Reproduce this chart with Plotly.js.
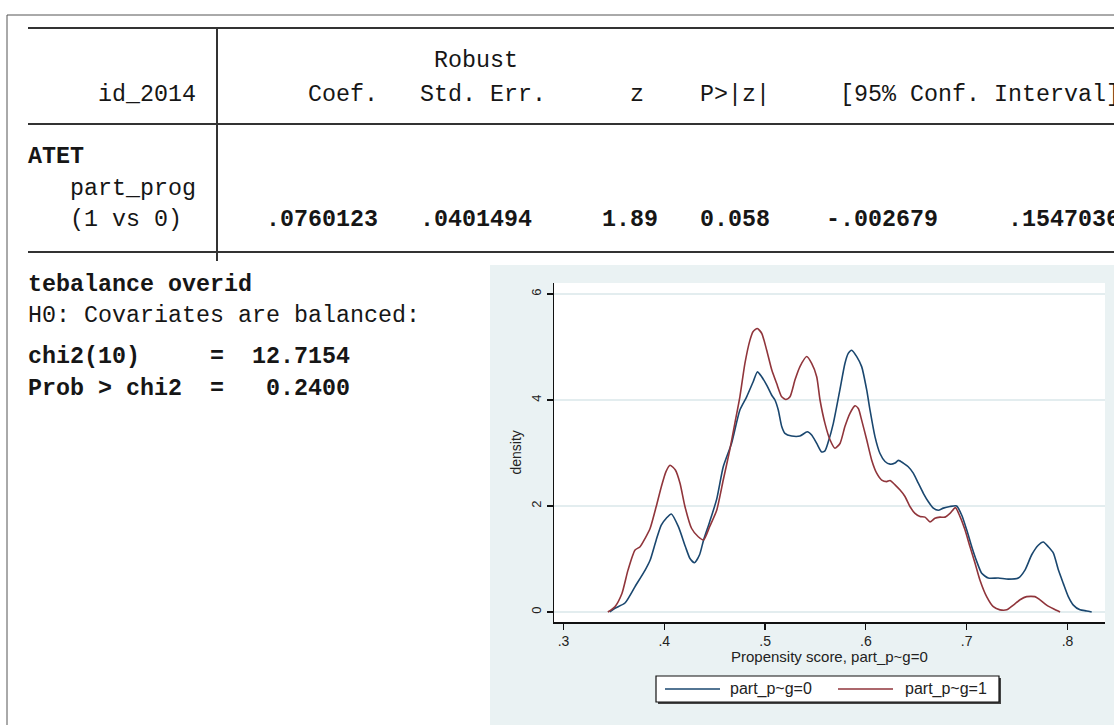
<!DOCTYPE html>
<html><head><meta charset="utf-8">
<script src="https://cdn.plot.ly/plotly-3.0.1.min.js"></script>
<style>html,body{margin:0;padding:0;background:#fff;overflow:hidden}#chart{width:1114px;height:725px}</style>
</head><body><div id="chart"></div>
<script>
// ---------- data ----------
const seriesNames = ['part_p~g=0', 'part_p~g=1'];
const seriesColors = ['#1a476f', '#90353b'];
const ps0X = [0.346,0.351,0.361,0.371,0.381,0.386,0.392,0.397,0.402,0.407,0.414,0.421,0.4255,0.430,0.435,0.439,0.445,0.452,0.4585,0.4667,0.475,0.4817,0.4883,0.4923,0.4966,0.5016,0.5066,0.5098,0.5131,0.5165,0.5197,0.5264,0.5346,0.5419,0.5462,0.5512,0.5561,0.5594,0.5627,0.5677,0.5743,0.5792,0.5825,0.5859,0.5909,0.5958,0.6008,0.6041,0.609,0.614,0.619,0.624,0.6289,0.6322,0.6371,0.642,0.647,0.652,0.657,0.662,0.6669,0.6718,0.6768,0.6834,0.690,0.695,0.700,0.705,0.710,0.7149,0.7214,0.7314,0.7413,0.7512,0.7578,0.7645,0.771,0.776,0.781,0.786,0.791,0.7958,0.8008,0.8058,0.8124,0.819,0.824];
const ps0Y = [0.00,0.07,0.17,0.48,0.79,0.98,1.36,1.64,1.77,1.85,1.61,1.23,1.01,0.93,1.08,1.36,1.70,2.13,2.74,3.18,3.81,4.06,4.35,4.53,4.44,4.28,4.09,4.00,3.81,3.50,3.37,3.32,3.32,3.40,3.34,3.18,3.02,3.04,3.21,3.56,4.20,4.69,4.88,4.94,4.82,4.63,4.19,3.81,3.31,2.99,2.84,2.79,2.81,2.86,2.81,2.74,2.62,2.43,2.24,2.08,1.96,1.92,1.96,1.99,2.00,1.83,1.55,1.23,0.95,0.73,0.64,0.64,0.62,0.64,0.79,1.08,1.26,1.32,1.23,1.11,0.79,0.54,0.29,0.13,0.04,0.02,0.00];
const ps1X = [0.344,0.351,0.358,0.364,0.371,0.376,0.381,0.386,0.392,0.397,0.4017,0.4057,0.411,0.4156,0.4205,0.427,0.4337,0.439,0.445,0.452,0.4585,0.465,0.470,0.475,0.480,0.485,0.488,0.4923,0.4966,0.5016,0.5066,0.5115,0.5165,0.5207,0.5247,0.5297,0.5346,0.5413,0.5462,0.5512,0.5545,0.5594,0.5644,0.5693,0.5743,0.5792,0.5842,0.5892,0.5925,0.5958,0.6008,0.6057,0.6107,0.6157,0.6206,0.6239,0.6289,0.6339,0.6388,0.6437,0.6487,0.6537,0.6586,0.6636,0.6685,0.6735,0.6785,0.6834,0.6888,0.6934,0.6983,0.7033,0.7083,0.7132,0.7198,0.7264,0.733,0.7397,0.7462,0.7529,0.7595,0.7677,0.7727,0.7793,0.786,0.7926];
const ps1Y = [0.00,0.10,0.35,0.79,1.17,1.23,1.39,1.58,1.99,2.36,2.65,2.77,2.68,2.43,1.99,1.58,1.42,1.36,1.61,1.92,2.49,3.06,3.56,4.06,4.69,5.13,5.29,5.35,5.26,4.94,4.57,4.31,4.06,4.01,4.06,4.38,4.63,4.82,4.69,4.44,4.00,3.56,3.25,3.09,3.18,3.50,3.75,3.89,3.84,3.62,3.25,2.87,2.62,2.49,2.46,2.48,2.40,2.30,2.18,1.99,1.86,1.80,1.79,1.70,1.77,1.79,1.79,1.86,1.97,1.80,1.55,1.23,0.92,0.60,0.29,0.10,0.04,0.04,0.13,0.23,0.29,0.29,0.23,0.13,0.06,0.00];
const xTickVals = [0.3, 0.4, 0.5, 0.6, 0.7, 0.8];
const xTickText = ['.3', '.4', '.5', '.6', '.7', '.8'];
const yTickVals = [0, 2, 4, 6];
const yTickText = ['0', '2', '4', '6'];
const xTitle = 'Propensity score, part_p~g=0';
const yTitle = 'density';

const depVar = 'id_2014';
const topHeader = 'Robust';
const colHeaders = ['Coef.', 'Std. Err.', 'z', 'P>|z|', '[95% Conf. Interval]'];
const rowLabels = ['ATET', 'part_prog', '(1 vs 0)'];
const estimates = ['.0760123', '.0401494', '1.89', '0.058', '-.002679', '.1547036'];
const testTitle = 'tebalance overid';
const testNull = 'H0: Covariates are balanced:';
const statLabels = ['chi2(10)', 'Prob > chi2'];
const statValues = ['12.7154', '0.2400'];

// ---------- layout helpers ----------
const W = 1114, H = 725;
const PX = p => p / W;
const PY = p => 1 - p / H;
const CW = 14, C0 = 28;          // monospace grid of the text output
const col = c => PX(C0 + c * CW);
const mono = {family: 'Liberation Mono, Courier New, monospace', size: 23.33, color: '#161616'};
const sans = 'Liberation Sans, Arial, sans-serif';

function txt(text, x, y, opts) {
  return Object.assign({text: text, x: x, y: y, xref: 'paper', yref: 'paper', xanchor: 'left', yanchor: 'middle',
    showarrow: false, borderpad: 0, borderwidth: 0, font: mono}, opts || {});
}

const annotations = [];
annotations.push(txt(topHeader, col(29), PY(61)));
annotations.push(txt(depVar, col(5), PY(95)));
const hdrCols = [20, 28, 43, 48, 58];
colHeaders.forEach((h, i) => annotations.push(txt(h, col(hdrCols[i]), PY(95))));
annotations.push(txt('<b>' + rowLabels[0] + '</b>', col(0), PY(157)));
annotations.push(txt(rowLabels[1], col(3), PY(189)));
annotations.push(txt(rowLabels[2], col(3), PY(220)));
const estCols = [17, 28, 41, 48, 57, 70];
estimates.forEach((v, i) => annotations.push(txt('<b>' + v + '</b>', col(estCols[i]), PY(220))));
annotations.push(txt('<b>' + testTitle + '</b>', col(0), PY(285)));
annotations.push(txt(testNull, col(0), PY(316)));
const statRows = [357, 389];
const statValCols = [16, 17];
statLabels.forEach((s, i) => {
  annotations.push(txt('<b>' + s + '</b>', col(0), PY(statRows[i])));
  annotations.push(txt('<b>=</b>', col(13), PY(statRows[i])));
  annotations.push(txt('<b>' + statValues[i] + '</b>', col(statValCols[i]), PY(statRows[i])));
});
// axis titles (Stata style placement)
annotations.push({text: xTitle, xref: 'x domain', yref: 'paper', x: 0.5, y: PY(656), xanchor: 'center', yanchor: 'middle',
  showarrow: false, font: {family: sans, size: 15, color: '#222'}});
annotations.push({text: yTitle, xref: 'paper', yref: 'y domain', x: PX(515), y: 0.5, xanchor: 'center', yanchor: 'middle',
  textangle: -90, showarrow: false, font: {family: sans, size: 14, color: '#222'}});

const lineCol = '#333';
const shapes = [
  // graph region background
  {type: 'rect', xref: 'paper', yref: 'paper', x0: PX(490), x1: 1, y0: 0, y1: PY(265), fillcolor: '#eaf2f3', line: {width: 0}, layer: 'below'},
  // plot region
  {type: 'rect', xref: 'x domain', yref: 'y domain', x0: 0, x1: 1, y0: 0, y1: 1, fillcolor: '#ffffff', line: {width: 0}, layer: 'below'},
  // outer frame of the results window
  {type: 'line', xref: 'paper', yref: 'paper', x0: PX(7), x1: 1.01, y0: PY(15), y1: PY(15), line: {color: '#555', width: 1}},
  {type: 'line', xref: 'paper', yref: 'paper', x0: PX(7), x1: PX(7), y0: PY(15), y1: -0.01, line: {color: '#555', width: 1}},
  // table rules
  {type: 'line', xref: 'paper', yref: 'paper', x0: PX(28), x1: 1.01, y0: PY(28), y1: PY(28), line: {color: lineCol, width: 2}},
  {type: 'line', xref: 'paper', yref: 'paper', x0: PX(28), x1: 1.01, y0: PY(124), y1: PY(124), line: {color: lineCol, width: 2}},
  {type: 'line', xref: 'paper', yref: 'paper', x0: PX(28), x1: 1.01, y0: PY(252), y1: PY(252), line: {color: lineCol, width: 2}},
  {type: 'line', xref: 'paper', yref: 'paper', x0: PX(217), x1: PX(217), y0: PY(28), y1: PY(261), line: {color: lineCol, width: 2}},
  // legend box (Stata style, with slight shadow)
  {type: 'rect', xref: 'paper', yref: 'paper', x0: PX(658), x1: PX(1001), y0: PY(704), y1: PY(678), fillcolor: '#444', line: {width: 0}},
  {type: 'rect', xref: 'paper', yref: 'paper', x0: PX(656), x1: PX(999), y0: PY(702), y1: PY(676), fillcolor: '#ffffff', line: {color: '#111', width: 1.2}}
];
// legend keys
const keyX = [[665, 720], [838, 893]];
const keyTextX = [730, 905];
seriesNames.forEach((n, i) => {
  shapes.push({type: 'line', xref: 'paper', yref: 'paper', x0: PX(keyX[i][0]), x1: PX(keyX[i][1]), y0: PY(689), y1: PY(689),
    line: {color: seriesColors[i], width: 1.6}});
  annotations.push({text: n, xref: 'paper', yref: 'paper', x: PX(keyTextX[i]), y: PY(689), xanchor: 'left', yanchor: 'middle',
    showarrow: false, borderpad: 0, borderwidth: 0, font: {family: sans, size: 16, color: '#222'}});
});

const traces = seriesNames.map((n, i) => ({
  x: [ps0X, ps1X][i], y: [ps0Y, ps1Y][i], name: n, type: 'scatter', mode: 'lines',
  line: {color: seriesColors[i], width: 1.6, shape: 'spline', smoothing: 0.6}
}));

const layout = {
  width: W, height: H,
  margin: {l: 0, r: 0, t: 0, b: 0, pad: 0},
  paper_bgcolor: '#ffffff', plot_bgcolor: 'rgba(0,0,0,0)',
  showlegend: false,
  xaxis: {domain: [PX(554), PX(1105)], range: [0.2906, 0.8372], tickvals: xTickVals, ticktext: xTickText,
    showline: true, linecolor: '#111', linewidth: 1.5, ticks: 'outside', ticklen: 6, tickwidth: 1.2, tickcolor: '#111',
    showgrid: false, zeroline: false, tickfont: {family: sans, size: 14, color: '#222'}, fixedrange: true},
  yaxis: {domain: [PY(622), PY(283)], range: [-0.189, 6.208], tickvals: yTickVals, ticktext: yTickText, tickangle: -90,
    showline: true, linecolor: '#111', linewidth: 1.5, ticks: 'outside', ticklen: 6, tickwidth: 1.2, tickcolor: '#111',
    showgrid: true, gridcolor: '#e3edef', gridwidth: 1.5, zeroline: false, tickfont: {family: sans, size: 13, color: '#222'}, fixedrange: true},
  shapes: shapes,
  annotations: annotations
};

Plotly.newPlot('chart', traces, layout, {displayModeBar: false, staticPlot: true});
</script>
</body></html>
